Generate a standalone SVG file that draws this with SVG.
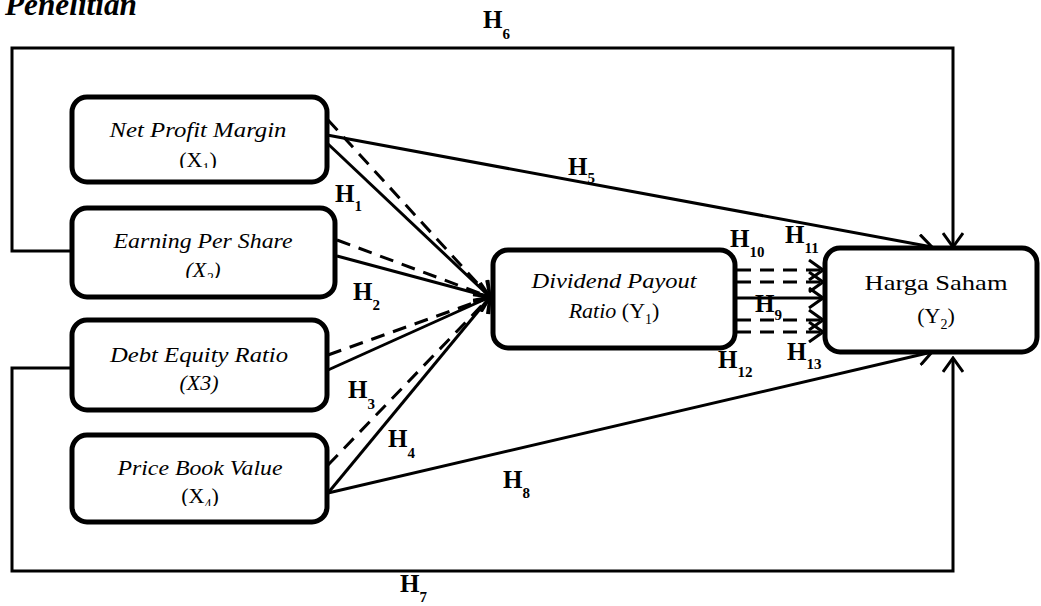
<svg xmlns="http://www.w3.org/2000/svg" width="1041" height="606" viewBox="0 0 1041 606">
<style>
.box{fill:#fff;stroke:#000;stroke-width:5}
.t{font-family:"Liberation Serif","DejaVu Serif",serif;font-size:22px;fill:#000;text-anchor:middle}
.it{font-style:italic}
.ln{fill:none;stroke:#000;stroke-width:3}
.dash{stroke-dasharray:14 9}
.h{font-family:"Liberation Serif","DejaVu Serif",serif;font-size:25px;font-weight:bold;fill:#000}
.s{font-size:15px}
</style>
<defs>
<marker id="arr" markerUnits="userSpaceOnUse" viewBox="0 0 17 22" markerWidth="17" markerHeight="22" refX="15" refY="11" orient="auto">
<path d="M1,1 L15,11 L1,21" fill="none" stroke="#000" stroke-width="3" stroke-dasharray="none"/>
</marker>
<clipPath id="c1"><rect x="80" y="140" width="240" height="28"/></clipPath>
<clipPath id="c2"><rect x="80" y="252" width="250" height="26"/></clipPath>
<clipPath id="c4"><rect x="80" y="480" width="240" height="26"/></clipPath>
</defs>
<text x="5" y="15" font-family="'Liberation Serif','DejaVu Serif',serif" font-size="32" font-style="italic" font-weight="bold" textLength="132" lengthAdjust="spacingAndGlyphs">Penelitian</text>
<g id="connectors">
<polyline class="ln" points="72,251 12,251 12,48 953,48 953,247" marker-end="url(#arr)"/>
<polyline class="ln" points="72,368 12,368 12,571 953,571 953,358" marker-end="url(#arr)"/>
<line class="ln" x1="327" y1="135" x2="932" y2="247" marker-end="url(#arr)"/>
<line class="ln" x1="328" y1="493" x2="932" y2="352" marker-end="url(#arr)"/>
<line class="ln" x1="327" y1="143" x2="490" y2="297" marker-end="url(#arr)"/>
<line class="ln dash" x1="328" y1="120" x2="490" y2="297" marker-end="url(#arr)"/>
<line class="ln" x1="337" y1="256" x2="490" y2="297" marker-end="url(#arr)"/>
<line class="ln dash" x1="337" y1="240" x2="490" y2="297" marker-end="url(#arr)"/>
<line class="ln" x1="328" y1="370" x2="490" y2="297" marker-end="url(#arr)"/>
<line class="ln dash" x1="328" y1="355" x2="490" y2="297" marker-end="url(#arr)"/>
<line class="ln" x1="328" y1="493" x2="490" y2="297" marker-end="url(#arr)"/>
<line class="ln dash" x1="328" y1="465" x2="490" y2="297" marker-end="url(#arr)"/>
<line class="ln dash" x1="737" y1="270" x2="823" y2="270" marker-end="url(#arr)"/>
<line class="ln dash" x1="737" y1="282" x2="823" y2="282" marker-end="url(#arr)"/>
<line class="ln" x1="737" y1="298" x2="823" y2="298" marker-end="url(#arr)"/>
<line class="ln dash" x1="737" y1="320" x2="823" y2="320" marker-end="url(#arr)"/>
<line class="ln dash" x1="737" y1="332" x2="823" y2="332" marker-end="url(#arr)"/>
</g>
<g id="npm">
<rect class="box" x="72" y="97" width="255" height="85" rx="15"/>
<text class="t it" x="198" y="137" textLength="177" lengthAdjust="spacingAndGlyphs">Net Profit Margin</text>
<text class="t" x="198" y="167" clip-path="url(#c1)">(X<tspan dy="6" font-size="14">1</tspan><tspan dy="-6">)</tspan></text>
</g>
<g id="eps">
<rect class="box" x="72" y="208" width="263" height="89" rx="15"/>
<text class="t it" x="203" y="248" textLength="179" lengthAdjust="spacingAndGlyphs">Earning Per Share</text>
<text class="t it" x="203" y="277" clip-path="url(#c2)">(X<tspan dy="6" font-size="14">2</tspan><tspan dy="-6">)</tspan></text>
</g>
<g id="der">
<rect class="box" x="72" y="320" width="255" height="90" rx="15"/>
<text class="t it" x="199" y="362" textLength="178" lengthAdjust="spacingAndGlyphs">Debt Equity Ratio</text>
<text class="t it" x="199" y="390">(X3)</text>
</g>
<g id="pbv">
<rect class="box" x="72" y="435" width="255" height="87" rx="15"/>
<text class="t it" x="200" y="475" textLength="165" lengthAdjust="spacingAndGlyphs">Price Book Value</text>
<text class="t" x="200" y="503" clip-path="url(#c4)">(X<tspan dy="6" font-size="14">4</tspan><tspan dy="-6">)</tspan></text>
</g>
<g id="dpr">
<rect class="box" x="493" y="250" width="242" height="98" rx="15"/>
<text class="t it" x="614" y="288" textLength="165" lengthAdjust="spacingAndGlyphs">Dividend Payout</text>
<text class="t" x="614" y="318"><tspan font-style="italic">Ratio</tspan> (Y<tspan dy="6" font-size="14">1</tspan><tspan dy="-6">)</tspan></text>
</g>
<g id="hs">
<rect class="box" x="825" y="248" width="212" height="104" rx="15"/>
<text class="t" x="936" y="290" textLength="143" lengthAdjust="spacingAndGlyphs">Harga Saham</text>
<text class="t" x="936" y="323">(Y<tspan dy="6" font-size="14">2</tspan><tspan dy="-6">)</tspan></text>
</g>
<g id="labels">
<text class="h" x="335" y="202">H<tspan class="s" dy="9">1</tspan></text>
<text class="h" x="353" y="300">H<tspan class="s" dy="10">2</tspan></text>
<text class="h" x="348" y="398">H<tspan class="s" dy="11">3</tspan></text>
<text class="h" x="388" y="447">H<tspan class="s" dy="11">4</tspan></text>
<text class="h" x="568" y="175">H<tspan class="s" dy="8">5</tspan></text>
<text class="h" x="483" y="28">H<tspan class="s" dy="11">6</tspan></text>
<text class="h" x="400" y="592">H<tspan class="s" dy="10">7</tspan></text>
<text class="h" x="503" y="488">H<tspan class="s" dy="10">8</tspan></text>
<text class="h" x="755" y="312">H<tspan class="s" dy="8">9</tspan></text>
<text class="h" x="730" y="247">H<tspan class="s" dy="10">10</tspan></text>
<text class="h" x="785" y="243">H<tspan class="s" dy="10">11</tspan></text>
<text class="h" x="718" y="368">H<tspan class="s" dy="9">12</tspan></text>
<text class="h" x="787" y="360">H<tspan class="s" dy="9">13</tspan></text>
</g>
</svg>
